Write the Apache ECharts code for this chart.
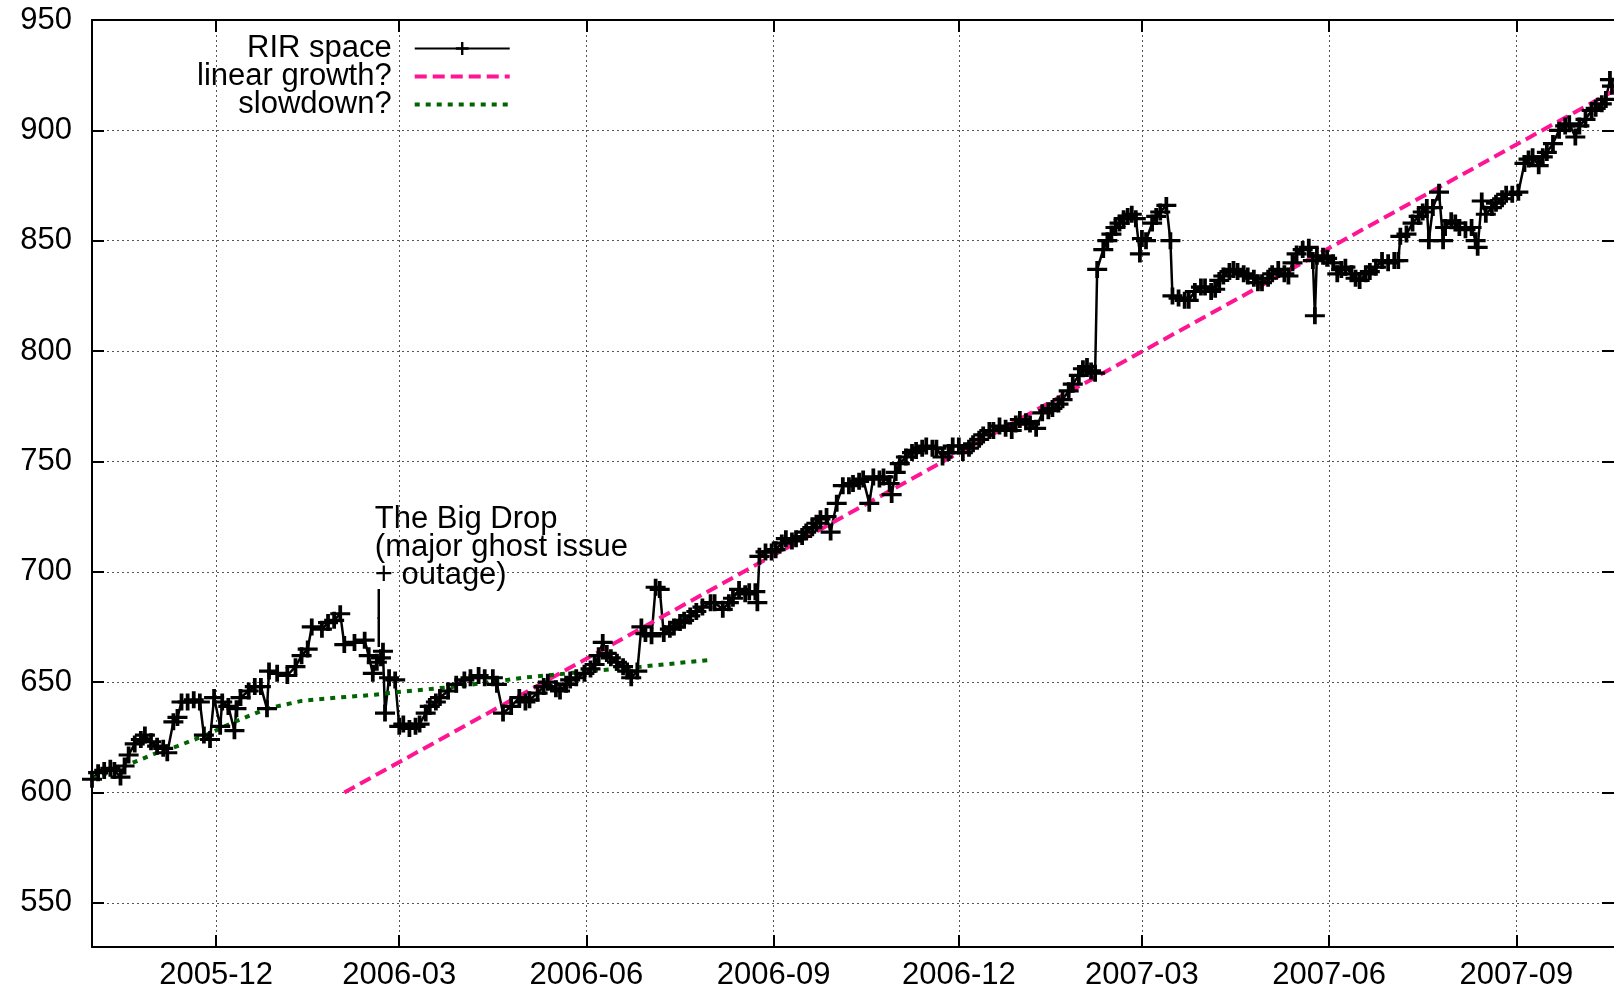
<!DOCTYPE html>
<html>
<head>
<meta charset="utf-8">
<title>RIR space</title>
<script src="https://cdn.jsdelivr.net/npm/echarts@6.0.0/dist/echarts.min.js"></script>
<style>
html, body { margin: 0; padding: 0; background: #fff; }
#chart { width: 1614px; height: 994px; }
</style>
</head>
<body>
<div id="chart"></div>
<script>
// RIR space samples, one line per month (dates and values line up)
const rirDates = [
    '2005-10-01','2005-10-04','2005-10-07','2005-10-10','2005-10-12','2005-10-15','2005-10-17','2005-10-19','2005-10-22','2005-10-25','2005-10-27','2005-10-30',
    '2005-11-02','2005-11-05','2005-11-07','2005-11-10','2005-11-12','2005-11-14','2005-11-17','2005-11-20','2005-11-23','2005-11-25','2005-11-28','2005-11-30',
    '2005-12-03','2005-12-04','2005-12-07','2005-12-10','2005-12-11','2005-12-13','2005-12-17','2005-12-20','2005-12-23','2005-12-26','2005-12-27','2005-12-31',
    '2006-01-05','2006-01-09','2006-01-12','2006-01-15','2006-01-17','2006-01-22','2006-01-25','2006-01-28','2006-01-31',
    '2006-02-02','2006-02-07','2006-02-12','2006-02-14','2006-02-16','2006-02-18','2006-02-20','2006-02-21','2006-02-22','2006-02-24','2006-02-27',
    '2006-03-01','2006-03-03','2006-03-06','2006-03-09','2006-03-11','2006-03-14','2006-03-16','2006-03-19','2006-03-21','2006-03-25','2006-03-29',
    '2006-04-02','2006-04-05','2006-04-09','2006-04-12','2006-04-16','2006-04-18','2006-04-21','2006-04-25','2006-04-29',
    '2006-05-02','2006-05-04','2006-05-08','2006-05-11','2006-05-13','2006-05-17','2006-05-19','2006-05-22','2006-05-24','2006-05-27','2006-05-31',
    '2006-06-03','2006-06-05','2006-06-07','2006-06-09','2006-06-11','2006-06-13','2006-06-16','2006-06-19','2006-06-21','2006-06-23','2006-06-26','2006-06-28','2006-06-30',
    '2006-07-03','2006-07-05','2006-07-07','2006-07-09','2006-07-12','2006-07-14','2006-07-17','2006-07-19','2006-07-22','2006-07-25','2006-07-28',
    '2006-08-01','2006-08-03','2006-08-07','2006-08-10','2006-08-12','2006-08-15','2006-08-18','2006-08-20','2006-08-23','2006-08-24','2006-08-25','2006-08-28','2006-08-31',
    '2006-09-02','2006-09-05','2006-09-07','2006-09-10','2006-09-12','2006-09-15','2006-09-17','2006-09-20','2006-09-22','2006-09-24','2006-09-27','2006-09-29',
    '2006-10-02','2006-10-05','2006-10-08','2006-10-10','2006-10-13','2006-10-15','2006-10-18','2006-10-20','2006-10-23','2006-10-25','2006-10-28','2006-10-29','2006-10-31',
    '2006-11-02','2006-11-05','2006-11-08','2006-11-10','2006-11-13','2006-11-15','2006-11-18','2006-11-20','2006-11-23','2006-11-26','2006-11-28',
    '2006-12-01','2006-12-03','2006-12-06','2006-12-08','2006-12-11','2006-12-13','2006-12-16','2006-12-18','2006-12-21','2006-12-24','2006-12-27','2006-12-29','2006-12-31',
    '2007-01-03','2007-01-05','2007-01-08','2007-01-11','2007-01-14','2007-01-16','2007-01-19','2007-01-21','2007-01-24','2007-01-26','2007-01-29','2007-01-31',
    '2007-02-02','2007-02-04','2007-02-06','2007-02-07','2007-02-10','2007-02-12','2007-02-14','2007-02-16','2007-02-18','2007-02-20','2007-02-22','2007-02-24','2007-02-26','2007-02-28',
    '2007-03-01','2007-03-03','2007-03-06','2007-03-08','2007-03-10','2007-03-13','2007-03-15','2007-03-16','2007-03-19','2007-03-22','2007-03-24','2007-03-27','2007-03-30',
    '2007-04-01','2007-04-04','2007-04-06','2007-04-08','2007-04-10','2007-04-13','2007-04-15','2007-04-17','2007-04-20','2007-04-22','2007-04-25','2007-04-27','2007-04-29',
    '2007-05-02','2007-05-04','2007-05-07','2007-05-10','2007-05-12','2007-05-14','2007-05-16','2007-05-19','2007-05-22','2007-05-24','2007-05-25','2007-05-26','2007-05-29','2007-05-31',
    '2007-06-03','2007-06-05','2007-06-07','2007-06-09','2007-06-12','2007-06-14','2007-06-16','2007-06-19','2007-06-21','2007-06-24','2007-06-27','2007-06-30',
    '2007-07-03','2007-07-05','2007-07-06','2007-07-09','2007-07-12','2007-07-15','2007-07-17','2007-07-19','2007-07-20','2007-07-22','2007-07-25','2007-07-27','2007-07-28','2007-07-31',
    '2007-08-02','2007-08-04','2007-08-07','2007-08-10','2007-08-12','2007-08-13','2007-08-15','2007-08-17','2007-08-20','2007-08-22','2007-08-25','2007-08-27','2007-08-30',
    '2007-09-02','2007-09-05','2007-09-07','2007-09-09','2007-09-12','2007-09-14','2007-09-16','2007-09-19','2007-09-22','2007-09-25','2007-09-27','2007-09-30',
    '2007-10-02','2007-10-05','2007-10-08','2007-10-10','2007-10-13','2007-10-15','2007-10-17','2007-10-18'
];
const rirValues = [
    606, 609, 610, 611, 610, 607, 612, 617, 622, 624, 626, 623,
    621, 620, 618, 632, 634, 641, 641, 642, 641, 626, 624, 643,
    630, 641, 639, 628, 638, 643, 646, 648, 648, 638, 655, 654,
    653, 657, 662, 665, 675, 674, 677, 678, 681,
    667, 668, 669, 662, 654, 659, 661, 664, 636, 652, 651,
    630, 631, 629, 630, 631, 636, 639, 641, 643, 646, 649,
    651, 652, 653, 652, 652, 649, 636, 639, 643,
    641, 642, 645, 648, 650, 647, 646, 649, 651, 652, 654,
    656, 658, 662, 668, 663, 661, 659, 657, 655, 652, 655, 675, 672,
    671, 693, 692, 672, 674, 675, 677, 678, 680, 682, 684,
    686, 686, 683, 686, 688, 692, 690, 691, 691, 686, 707, 709, 709,
    710, 713, 715, 714, 715, 716, 718, 720, 722, 724, 725, 718,
    731, 739, 739, 740, 741, 742, 731, 743, 742, 743, 740, 735, 745,
    749, 752, 754, 755, 756, 757, 756, 756, 752, 754, 757,
    757, 754, 756, 758, 760, 762, 764, 764, 766, 765, 764, 767, 769,
    768, 767, 765, 772, 773, 774, 776, 778, 782, 785, 789, 792,
    793, 791, 790, 837, 846, 850, 853, 856, 858, 860, 861, 862, 860, 844,
    851, 850, 858, 861, 863, 866, 850, 825, 824, 823, 823, 827, 829,
    829, 827, 828, 832, 834, 836, 837, 836, 835, 834, 833, 831, 831,
    833, 835, 837, 835, 834, 840, 844, 846, 847, 841, 816, 843, 843, 842,
    840, 835, 837, 838, 835, 833, 832, 835, 836, 838, 841, 840,
    841, 841, 852, 853, 858, 861, 863, 865, 850, 865, 872, 850, 856, 859,
    858, 856, 855, 856, 850, 847, 868, 862, 865, 867, 869, 871, 871,
    872, 885, 887, 888, 884, 888, 890, 894, 900, 902, 903, 897,
    902, 905, 909, 910, 912, 914, 923, 920
];

// trend guesses
const linearDates = ['2006-02-02', '2007-10-19'];
const linearValues = [600, 918];
const slowDates = ['2005-10-01', '2005-10-17', '2005-11-02', '2005-11-12', '2005-11-26', '2005-12-10', '2005-12-26',
    '2006-01-12', '2006-01-30', '2006-02-17', '2006-02-28', '2006-03-29', '2006-05-01', '2006-06-03', '2006-06-28', '2006-07-31'];
const slowValues = [606, 612, 618, 621, 626, 632, 638, 641.5, 643, 644.3, 645.5, 648, 652, 655, 657, 660];

const xTickMonths = ['2005-12-01', '2006-03-01', '2006-06-01', '2006-09-01', '2006-12-01', '2007-03-01', '2007-06-01', '2007-09-01'];
const yTicks = [550, 600, 650, 700, 750, 800, 850, 900, 950];

const noteDate = '2006-02-17';
const noteValue = 730;

const FONT = 'Liberation Sans';
const FS = 31;
const toTime = d => new Date(d + 'T00:00:00').getTime();
const xTickTimes = xTickMonths.map(toTime);
const xMin = toTime('2005-10-01');
const xMax = toTime('2007-10-19');
const zip = (xs, ys) => xs.map((x, i) => [toTime(x), ys[i]]);

const plusPath = 'path://M6.5,0H9.5V6.5H16V9.5H9.5V16H6.5V9.5H0V6.5H6.5Z';
const gridLine = { show: true, lineStyle: { color: '#555', width: 1, type: [2, 3] } };
const border = { show: true, onZero: false, lineStyle: { color: '#000', width: 2 } };
const inTick = { show: true, inside: true, length: 12, lineStyle: { color: '#000', width: 2 } };

const chart = echarts.init(document.getElementById('chart'));

const option = {
    backgroundColor: '#fff',
    animation: false,
    textStyle: { fontFamily: FONT },
    grid: { left: 92, right: 0, top: 20, bottom: 47 },
    legend: {
        data: [
            { name: 'RIR space', lineStyle: { width: 2 } },
            { name: 'linear growth?', itemStyle: { opacity: 0 }, lineStyle: { width: 4, type: [12, 6] } },
            { name: 'slowdown?', itemStyle: { opacity: 0 }, lineStyle: { width: 4, type: [5, 6] } }
        ],
        orient: 'vertical',
        align: 'right',
        left: 197,
        top: 33,
        padding: 0,
        itemGap: -3,
        itemWidth: 95,
        itemHeight: 16,
        selectedMode: false,
        textStyle: { fontFamily: FONT, fontSize: FS, color: '#000', lineHeight: 28, padding: [0, 18, 0, 0] }
    },
    xAxis: [
        {
            type: 'value',
            min: xMin,
            max: xMax,
            position: 'bottom',
            axisLine: border,
            axisTick: Object.assign({ customValues: xTickTimes }, inTick),
            axisLabel: {
                customValues: xTickTimes,
                fontFamily: FONT, fontSize: FS, color: '#000', margin: 13,
                formatter: v => {
                    const d = new Date(v);
                    return d.getFullYear() + '-' + String(d.getMonth() + 1).padStart(2, '0');
                }
            },
            splitLine: gridLine
        },
        {
            type: 'value',
            min: xMin,
            max: xMax,
            position: 'top',
            axisLine: border,
            axisTick: Object.assign({ customValues: xTickTimes }, inTick),
            axisLabel: { show: false },
            splitLine: { show: false }
        }
    ],
    yAxis: [
        {
            type: 'value',
            min: 530,
            max: 950,
            position: 'left',
            axisLine: border,
            axisTick: Object.assign({ customValues: yTicks }, inTick),
            axisLabel: { customValues: yTicks, fontFamily: FONT, fontSize: FS, color: '#000', margin: 20 },
            splitLine: gridLine
        },
        {
            type: 'value',
            min: 530,
            max: 950,
            position: 'right',
            axisLine: { show: false },
            axisTick: Object.assign({ customValues: yTicks }, inTick),
            axisLabel: { show: false },
            splitLine: { show: false }
        }
    ],
    series: [
        {
            name: 'RIR space',
            type: 'line',
            data: zip(rirDates, rirValues),
            symbol: plusPath,
            symbolSize: [20, 17],
            showAllSymbol: true,
            itemStyle: { color: '#000' },
            lineStyle: { color: '#000', width: 2.5 },
            markPoint: {
                symbol: 'circle',
                symbolSize: 0,
                data: [{ coord: [toTime(noteDate), noteValue] }],
                label: {
                    show: true,
                    position: [0, 0],
                    align: 'left',
                    verticalAlign: 'top',
                    fontFamily: FONT,
                    fontSize: FS,
                    lineHeight: 28,
                    color: '#000',
                    formatter: 'The Big Drop\n(major ghost issue\n+ outage)\n|\n|'
                }
            }
        },
        {
            name: 'linear growth?',
            type: 'line',
            data: zip(linearDates, linearValues),
            symbol: 'none',
            lineStyle: { color: '#ff1493', width: 4, type: [12, 6] },
            itemStyle: { color: '#ff1493' }
        },
        {
            name: 'slowdown?',
            type: 'line',
            data: zip(slowDates, slowValues),
            symbol: 'none',
            lineStyle: { color: '#006400', width: 4, type: [5, 6] },
            itemStyle: { color: '#006400' }
        }
    ]
};

chart.setOption(option);
</script>
</body>
</html>
